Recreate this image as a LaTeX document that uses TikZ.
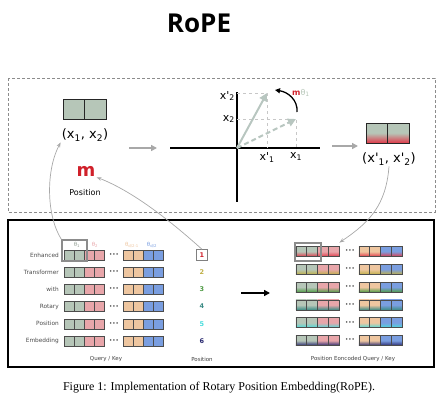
\documentclass[tikz,border=0pt]{standalone}
\usepackage{fontspec}
\setmainfont{Liberation Serif}
\newfontfamily\labfont{DejaVu Sans}
\newfontfamily\headfont{Open Sans}
\usetikzlibrary{arrows.meta, positioning}

\definecolor{cgreen}{HTML}{B6C6B8}
\definecolor{cred}{HTML}{E8A6AA}
\definecolor{corange}{HTML}{EEC6A0}
\definecolor{cblue}{HTML}{7A9EE0}
\definecolor{mred}{HTML}{D0202A}
\definecolor{arrgray}{HTML}{A8A8A8}
\definecolor{vecgray}{HTML}{B8C6C0}
\definecolor{rowA}{HTML}{E03A4A}
\definecolor{rowB}{HTML}{C0B048}
\definecolor{rowC}{HTML}{4E9A44}
\definecolor{rowD}{HTML}{3A8A84}
\definecolor{rowE}{HTML}{48DCDC}
\definecolor{rowF}{HTML}{2A2A70}

\tikzset{
  cell/.style={draw=black!70, line width=0.6pt, minimum width=10pt, minimum height=10pt, inner sep=0pt, outer sep=0pt},
  ecell/.style={cell, minimum width=10.75pt},
  bigcell/.style={cell, line width=1pt, draw=black!85, minimum width=21.5pt, minimum height=20pt},
  hlbox/.style={draw=black!45, line width=1.2pt, inner sep=0pt},
  conn/.style={arrgray, line width=0.7pt, -{Stealth[length=5pt]}},
  flow/.style={arrgray, line width=2pt, -{Triangle[length=6pt,width=6pt]}},
  rowlab/.style={font=\labfont\fontsize{5.8}{6}\selectfont, text=black!70, anchor=east, inner sep=0pt},
  tinylab/.style={font=\labfont\fontsize{5.5}{6}\selectfont, text=black!75, inner sep=0pt},
  numlab/.style={font=\labfont\bfseries\fontsize{6.5}{7}\selectfont, minimum width=10pt, minimum height=11pt, inner sep=0pt},
  pairlab/.style={font=\labfont\fontsize{13}{14}\selectfont, inner sep=1pt},
  axlab/.style={font=\labfont\fontsize{11}{12}\selectfont, inner sep=1pt},
}

\begin{document}
\begin{tikzpicture}[x=1pt, y=-1pt]
    \useasboundingbox (0,0) rectangle (444,413);

    % Title
    \node (title) at (199,23) {\headfont\bfseries\fontsize{26}{30}\selectfont RoPE};

    % Frames
    \draw[black!45, line width=1pt, dash pattern=on 3pt off 2pt] (8,78) rectangle (435,212);
    \draw[line width=1.2pt] (8,220) rectangle (434,367);

    % Input pair and position m
    \node[bigcell, fill=cgreen] (xa) at (74,109) {};
    \node[bigcell, fill=cgreen, right=0pt of xa] (xb) {};
    \node[pairlab] (xlab) at (85,135) {(x\textsubscript{1}, x\textsubscript{2})};
    \node[text=mred, inner sep=1pt] (mlab) at (86,171) {\labfont\bfseries\fontsize{18}{18}\selectfont m};
    \node[inner sep=1pt] (poslab) at (85,193) {\labfont\fontsize{8}{9}\selectfont Position};

    % Rotation in the plane
    \coordinate (O) at (237,148);
    \coordinate (P) at (267,93);
    \coordinate (Q) at (296,119);
    \draw[line width=1.6pt] (170,148) -- (320,148);
    \draw[line width=1.6pt] (237,92) -- (237,202);
    \draw[black!22, dashed, line width=0.8pt] (237,93) -- (P) -- (267,148);
    \draw[black!22, dashed, line width=0.8pt] (237,119) -- (Q) -- (296,148);
    \draw[vecgray, line width=2pt, -{Triangle[length=8pt,width=8pt]}] (O) -- (P);
    \draw[vecgray, line width=2pt, dash pattern=on 5pt off 3pt, -{Triangle[length=8pt,width=8pt]}] (O) -- (Q);
    \draw[line width=1.3pt, -{Triangle[length=5pt,width=5pt]}] (297,112) .. controls (298,100) and (288,92) .. (275,90);
    \node[axlab, anchor=east] (x2p) at (236,96) {x'\textsubscript{2}};
    \node[axlab, anchor=east] (x2) at (236,119) {x\textsubscript{2}};
    \node[axlab, anchor=north] (x1p) at (267,151) {x'\textsubscript{1}};
    \node[axlab, anchor=north] (x1) at (296,151) {x\textsubscript{1}};
    \node[anchor=west, inner sep=0pt] (ang) at (292,93) {\labfont\fontsize{8}{9}\selectfont\textcolor{mred}{\bfseries m}\textcolor{cgreen}{θ\textsubscript{1}}};

    % Encoded pair
    \node[bigcell, top color=cgreen, bottom color=rowA, middle color=cgreen] (ya) at (376.75,133) {};
    \node[bigcell, top color=cgreen, bottom color=rowA, middle color=cgreen, right=0pt of ya] (yb) {};
    \node[pairlab] (xplab) at (389,159) {(x'\textsubscript{1}, x'\textsubscript{2})};

    % Flow arrows
    \draw[flow] (129,148) -- (157,148);
    \draw[flow] (332,146) -- (358,146);

    % Query / Key rows
    \foreach \w [count=\i from 0] in {Enhanced,Transformer,with,Rotary,Position,Embedding} {
        \pgfmathsetmacro{\yy}{255+17.2*\i}
        \node[rowlab] (w-\i) at (59,\yy) {\w};
        \foreach \c/\col in {1/cgreen,2/cgreen,3/cred,4/cred}
            \node[cell, fill=\col] (q-\i-\c) at ({59+10*\c},\yy) {};
        \node[tinylab] (qd-\i) at (114,\yy) {•••};
        \foreach \c/\col in {5/corange,6/corange,7/cblue,8/cblue}
            \node[cell, fill=\col] (q-\i-\c) at ({78+10*\c},\yy) {};
    }
    \node[tinylab, text=cgreen!80!black] (t1) at (77,245) {θ\textsubscript{1}};
    \node[tinylab, text=cred] (t2) at (95,245) {θ\textsubscript{2}};
    \node[tinylab, text=corange] (t3) at (132,245) {θ\textsubscript{d/2-1}};
    \node[tinylab, text=cblue] (t4) at (152,245) {θ\textsubscript{d/2}};
    \node[hlbox, minimum width=25pt, minimum height=21pt] (hlA) at (74.5,250.5) {};

    % Positions
    \foreach \n/\col [count=\i from 0] in {1/mred,2/rowB,3/rowC,4/rowD,5/rowE,6/rowF}
        \node[numlab, text=\col] (n-\i) at (202,{255+17.2*\i}) {\n};
    \draw[black!50, line width=0.8pt] (n-0.south west) rectangle (n-0.north east);

    % Encoded rows
    \draw[line width=1.6pt, -{Triangle[length=6pt,width=6pt]}] (241,293) -- (270,293);
    \foreach \rc [count=\i from 0] in {rowA,rowB,rowC,rowD,rowE,rowF} {
        \pgfmathsetmacro{\yy}{251.5+17.8*\i}
        \foreach \c/\col in {1/cgreen,2/cgreen,3/cred,4/cred}
            \node[ecell, top color=\col, bottom color=\rc, middle color=\col] (e-\i-\c) at ({290.6+10.75*\c},\yy) {};
        \node[tinylab] (ed-\i) at (350,\yy) {•••};
        \foreach \c/\col in {5/corange,6/corange,7/cblue,8/cblue}
            \node[ecell, top color=\col, bottom color=\rc, middle color=\col] (e-\i-\c) at ({310.6+10.75*\c},\yy) {};
    }
    \node[hlbox, minimum width=26pt, minimum height=18pt] (hlB) at (308,252) {};

    % Bottom labels
    \node[tinylab] (lq) at (106,359) {Query / Key};
    \node[tinylab] (lp) at (202,359) {Position};
    \node[tinylab] (le) at (353,359) {Position Eoncoded Query / Key};

    % Connectors
    \draw[conn] (hlA.north west) .. controls (46,215) and (46,170) .. (xlab.south west);
    \draw[conn] (n-0.north) .. controls (175,225) and (135,192) .. (mlab.south east);
    \draw[conn, shorten >=7pt] (xplab.south) .. controls (386,205) and (370,222) .. (e-0-4.north);

    % Caption
    \node (cap) at (219,388) {\fontsize{12}{14}\selectfont Figure 1: Implementation of Rotary Position Embedding(RoPE).};
\end{tikzpicture}
\end{document}
